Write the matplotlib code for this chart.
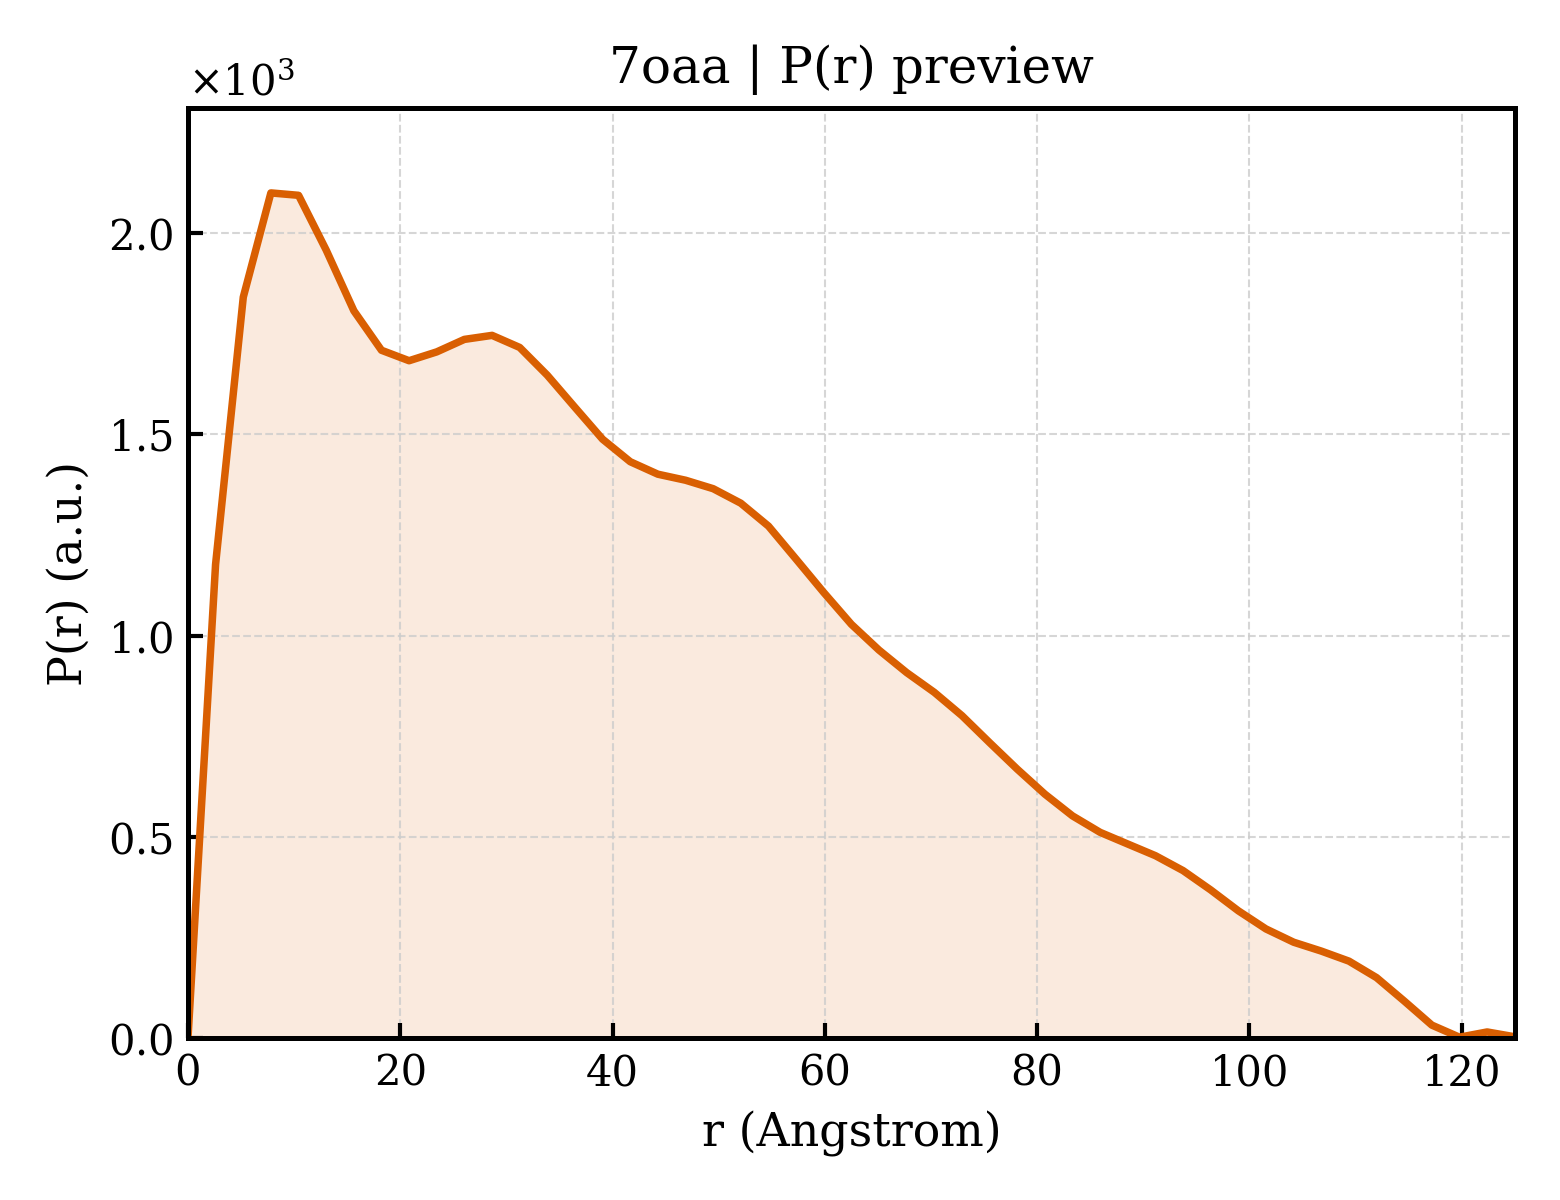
"""
P(r) preview for 7oaa: pair distance distribution drawn as a filled line.
"""

import matplotlib
matplotlib.use("Agg")
import matplotlib.pyplot as plt
from matplotlib.ticker import ScalarFormatter

r_values = [
    0.00, 2.60, 5.21, 7.81, 10.42, 13.02, 15.63, 18.23, 20.83, 23.44,
    26.04, 28.65, 31.25, 33.85, 36.46, 39.06, 41.67, 44.27, 46.88, 49.48,
    52.08, 54.69, 57.29, 59.90, 62.50, 65.10, 67.71, 70.31, 72.92, 75.52,
    78.13, 80.73, 83.33, 85.94, 88.54, 91.15, 93.75, 96.35, 98.96, 101.56,
    104.17, 106.77, 109.38, 111.98, 114.58, 117.19, 119.79, 122.40, 125.00,
]
pr_values = [
    0, 1177, 1841, 2100, 2094, 1958, 1807, 1709, 1683, 1705,
    1736, 1746, 1716, 1647, 1567, 1488, 1432, 1401, 1386, 1365,
    1329, 1272, 1190, 1107, 1028, 964, 908, 859, 801, 734,
    668, 606, 552, 511, 482, 453, 416, 368, 316, 271,
    238, 216, 191, 150, 92, 32, 2, 15, 3,
]

line_color = "#d95f02"
title_text = "7oaa | P(r) preview"

plt.rcParams["font.family"] = ["DejaVu Serif"]
plt.rcParams["mathtext.fontset"] = "dejavuserif"

fig, ax = plt.subplots(figsize=(5.2, 4), dpi=300)
fig.subplots_adjust(left=0.1205, right=0.971, top=0.91, bottom=0.135)

ax.plot(r_values, pr_values, color=line_color, lw=1.8)
ax.fill_between(r_values, pr_values, 0, color=line_color, alpha=0.13, lw=0)

ax.set_xlim(0, 125)
ax.set_ylim(0, 2311)

# scientific offset (x10^3) on the y axis
fmt = ScalarFormatter(useMathText=True)
fmt.set_powerlimits((0, 0))
ax.yaxis.set_major_formatter(fmt)
ax.yaxis.get_offset_text().set_fontsize(10)

ax.grid(True, ls="--", lw=0.5, color="#cccccc", alpha=0.8)
ax.tick_params(direction="in", labelsize=10, width=1.0)
for spine in ax.spines.values():
    spine.set_linewidth(1.2)

ax.set_title(title_text, fontsize=12)
ax.set_xlabel("r (Angstrom)", fontsize=11)
ax.set_ylabel("P(r) (a.u.)", fontsize=11)

fig.savefig("out.png", dpi=300)
